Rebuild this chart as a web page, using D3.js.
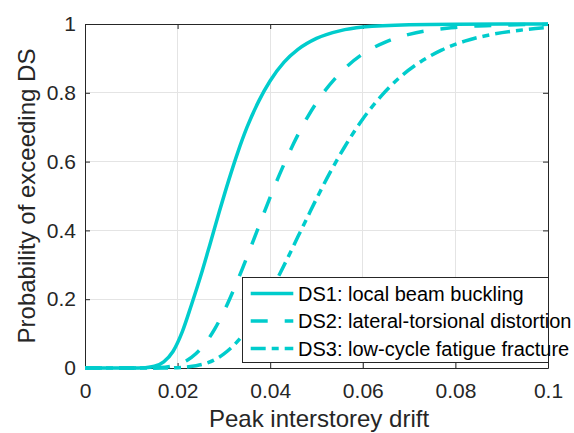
<!DOCTYPE html>
<html lang="en">
<head>
    <meta charset="UTF-8">
    <title>Fragility curves</title>
    <script src="https://d3js.org/d3.v7.min.js"></script>
    <style>
        body { margin: 0; background: #fff; }
        svg { display: block; font-family: "Liberation Sans", Arial, sans-serif; }
    </style>
</head>
<body>
    <div id="chart"></div>
    <script>
        // ---- data: [peak interstorey drift, probability] ----
        const ds1 = [[0, 0], [0.010, 0], [0.013, 0.001], [0.015, 0.005], [0.017, 0.018], [0.019, 0.048],
            [0.021, 0.105], [0.023, 0.184], [0.025, 0.268], [0.027, 0.36], [0.029, 0.454], [0.031, 0.544],
            [0.033, 0.627], [0.035, 0.70], [0.0375, 0.775], [0.040, 0.835], [0.043, 0.889], [0.046, 0.926],
            [0.050, 0.958], [0.055, 0.98], [0.060, 0.991], [0.070, 0.998], [0.080, 0.9995], [0.100, 1]];

        const ds2 = [[0, 0], [0.014, 0], [0.016, 0.001], [0.018, 0.0035], [0.020, 0.01], [0.022, 0.022],
            [0.024, 0.042], [0.026, 0.072], [0.028, 0.113], [0.030, 0.164], [0.032, 0.224], [0.034, 0.289],
            [0.036, 0.358], [0.038, 0.428], [0.040, 0.497], [0.042, 0.562], [0.045, 0.651], [0.048, 0.728],
            [0.051, 0.791], [0.055, 0.856], [0.060, 0.913], [0.065, 0.948], [0.070, 0.97], [0.080, 0.99],
            [0.090, 0.9967], [0.100, 0.999]];

        const ds3 = [[0, 0], [0.018, 0], [0.020, 0.001], [0.022, 0.003], [0.024, 0.0065], [0.026, 0.013],
            [0.028, 0.024], [0.030, 0.041], [0.032, 0.064], [0.034, 0.094], [0.036, 0.13], [0.038, 0.173],
            [0.040, 0.22], [0.042, 0.272], [0.044, 0.326], [0.046, 0.382], [0.048, 0.437], [0.050, 0.492],
            [0.053, 0.57], [0.056, 0.641], [0.060, 0.724], [0.064, 0.791], [0.068, 0.845], [0.072, 0.886],
            [0.077, 0.924], [0.082, 0.95], [0.088, 0.97], [0.094, 0.982], [0.100, 0.99]];

        const seriesNames = ["DS1: local beam buckling", "DS2: lateral-torsional distortion", "DS3: low-cycle fatigue fracture"];
        const xTicks = [0, 0.02, 0.04, 0.06, 0.08, 0.1];
        const yTicks = [0, 0.2, 0.4, 0.6, 0.8, 1];

        // ---- layout ----
        const W = 574, H = 433;
        const plot = { left: 85, right: 548, top: 24, bottom: 368 };
        const lineColor = "#00cccc";
        const axisColor = "#262626";
        const dashes = ["none", "17,17", "15,6,7,6"];

        const svg = d3.select("#chart").append("svg")
            .attr("width", W)
            .attr("height", H);

        const x = d3.scaleLinear().domain([0, 0.1]).range([plot.left, plot.right]);
        const y = d3.scaleLinear().domain([0, 1]).range([plot.bottom, plot.top]);

        // grid
        const grid = svg.append("g").attr("stroke", "#e4e4e4").attr("shape-rendering", "crispEdges");
        grid.selectAll("line.gx").data(xTicks.slice(1, -1)).enter().append("line")
            .attr("x1", d => x(d)).attr("x2", d => x(d))
            .attr("y1", plot.top).attr("y2", plot.bottom);
        grid.selectAll("line.gy").data(yTicks.slice(1, -1)).enter().append("line")
            .attr("x1", plot.left).attr("x2", plot.right)
            .attr("y1", d => y(d)).attr("y2", d => y(d));

        // axes (ticks point inward, box on)
        const styleAxis = g => {
            g.select(".domain").attr("stroke", axisColor);
            g.selectAll(".tick line").attr("stroke", axisColor);
            g.selectAll(".tick text").attr("fill", axisColor).attr("font-size", "21px");
            g.attr("font-family", null);
        };
        const fmt = d => d3.format("~g")(d);

        svg.append("g")
            .attr("transform", `translate(0,${plot.bottom})`)
            .call(d3.axisBottom(x).tickValues(xTicks).tickFormat(fmt).tickSizeInner(-5).tickSizeOuter(0).tickPadding(15))
            .call(styleAxis);
        svg.append("g")
            .attr("transform", `translate(0,${plot.top})`)
            .call(d3.axisTop(x).tickValues(xTicks).tickFormat("").tickSizeInner(-5).tickSizeOuter(0))
            .call(styleAxis);
        svg.append("g")
            .attr("transform", `translate(${plot.left},0)`)
            .call(d3.axisLeft(y).tickValues(yTicks).tickFormat(fmt).tickSizeInner(-5).tickSizeOuter(0).tickPadding(9))
            .call(styleAxis);
        svg.append("g")
            .attr("transform", `translate(${plot.right},0)`)
            .call(d3.axisRight(y).tickValues(yTicks).tickFormat("").tickSizeInner(-5).tickSizeOuter(0))
            .call(styleAxis);

        // axis labels
        svg.append("text")
            .attr("x", 319)
            .attr("y", 427)
            .attr("text-anchor", "middle")
            .attr("font-size", "24px")
            .attr("fill", axisColor)
            .text("Peak interstorey drift");
        svg.append("text")
            .attr("transform", `translate(35,${(plot.top + plot.bottom) / 2}) rotate(-90)`)
            .attr("text-anchor", "middle")
            .attr("font-size", "24px")
            .attr("fill", axisColor)
            .text("Probability of exceeding DS");

        // curves
        const line = d3.line()
            .x(d => x(d[0]))
            .y(d => y(d[1]))
            .curve(d3.curveMonotoneX);

        svg.append("g").selectAll("path")
            .data([ds1, ds2, ds3])
            .enter()
            .append("path")
            .attr("d", line)
            .attr("fill", "none")
            .attr("stroke", lineColor)
            .attr("stroke-width", 3.5)
            .attr("stroke-dasharray", (d, i) => dashes[i]);

        // legend
        const legend = svg.append("g");
        legend.append("rect")
            .attr("x", 242.5).attr("y", 277.5)
            .attr("width", 306).attr("height", 85)
            .attr("fill", "#fff")
            .attr("stroke", axisColor)
            .attr("stroke-width", 1);

        const rows = legend.selectAll("g.row")
            .data(seriesNames)
            .enter()
            .append("g")
            .attr("transform", (d, i) => `translate(0,${293.5 + i * 27.5})`);
        rows.append("line")
            .attr("x1", 250.7).attr("x2", 293.3)
            .attr("stroke", lineColor)
            .attr("stroke-width", 3.5)
            .attr("stroke-dasharray", (d, i) => dashes[i]);
        rows.append("text")
            .attr("x", 298)
            .attr("dy", "0.35em")
            .attr("font-size", "20px")
            .attr("fill", "#000")
            .text(d => d);
    </script>
</body>
</html>
